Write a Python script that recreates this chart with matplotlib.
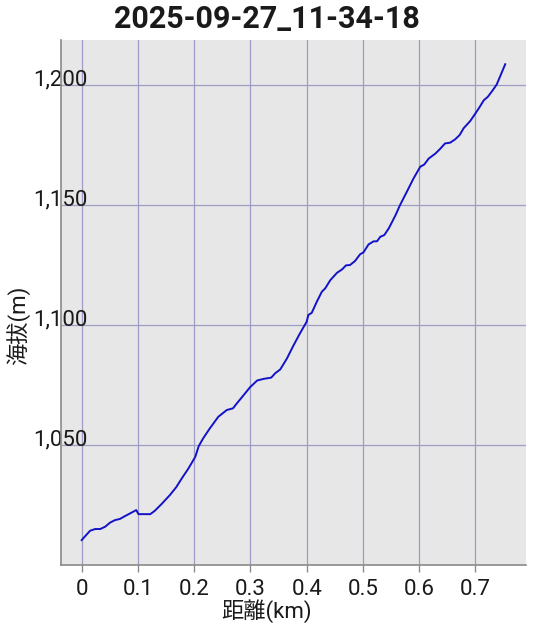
import matplotlib
matplotlib.use("Agg")
import matplotlib.pyplot as plt
from matplotlib.ticker import FixedLocator, StrMethodFormatter

# Distancia acumulada (km) y altitud (m)
distancia = [0.0, 0.015, 0.024, 0.033, 0.042, 0.050, 0.059, 0.068, 0.077, 0.086,
             0.097, 0.101, 0.122, 0.130, 0.142, 0.157, 0.168, 0.178, 0.190, 0.202,
             0.208, 0.216, 0.228, 0.243, 0.258, 0.269, 0.276, 0.288, 0.299, 0.312,
             0.324, 0.337, 0.344, 0.353, 0.365, 0.377, 0.388, 0.400, 0.403, 0.409,
             0.418, 0.427, 0.433, 0.442, 0.454, 0.463, 0.470, 0.477, 0.486, 0.495,
             0.501, 0.510, 0.519, 0.525, 0.531, 0.538, 0.546, 0.558, 0.566, 0.578,
             0.590, 0.602, 0.609, 0.617, 0.629, 0.638, 0.646, 0.655, 0.664, 0.672,
             0.679, 0.691, 0.700, 0.706, 0.715, 0.722, 0.730, 0.738, 0.753]
altitud = [1010.4, 1014.3, 1015.0, 1015.0, 1016.0, 1017.6, 1018.7, 1019.2, 1020.4, 1021.5,
           1022.9, 1021.2, 1021.2, 1022.6, 1025.4, 1029.2, 1032.4, 1036.1, 1040.3, 1045.1,
           1049.5, 1052.8, 1057.0, 1061.8, 1064.6, 1065.3, 1067.4, 1070.8, 1074.0, 1076.9,
           1077.6, 1078.1, 1079.9, 1081.5, 1086.1, 1091.7, 1096.5, 1101.4, 1104.2, 1105.1,
           1109.7, 1113.9, 1115.3, 1118.7, 1121.8, 1123.2, 1124.9, 1125.0, 1126.7, 1129.5,
           1130.3, 1133.6, 1134.9, 1134.9, 1136.8, 1137.5, 1140.3, 1145.8, 1150.0, 1155.5,
           1161.1, 1166.0, 1166.9, 1169.4, 1171.5, 1173.6, 1175.7, 1176.0, 1177.4, 1179.2,
           1182.0, 1185.1, 1188.2, 1190.3, 1193.7, 1195.1, 1197.6, 1200.3, 1208.7]

xticks = [0, 0.1, 0.2, 0.3, 0.4, 0.5, 0.6, 0.7]
xlabels = ["0", "0.1", "0.2", "0.3", "0.4", "0.5", "0.6", "0.7"]
yticks = [1050, 1100, 1150, 1200]

titulo = "2025-09-27_11-34-18"
etiqueta_x = "距離(km)"
etiqueta_y = "海拔(m)"

fuentes = ["Roboto", "Noto Sans CJK JP", "DejaVu Sans"]
plt.rcParams["font.family"] = fuentes

fig = plt.figure(figsize=(5.33, 6.34), dpi=100)
ax = fig.add_axes([0.1144, 0.1088, 0.8725, 0.8281])
ax.set_facecolor("#e7e7e7")

ax.plot(distancia, altitud, color="#1212c8", linewidth=1.4, zorder=3)

ax.set_xlim(-0.0368, 0.79)
ax.set_ylim(1000, 1218.8)

ax.xaxis.set_major_locator(FixedLocator(xticks))
ax.set_xticklabels(xlabels)
ax.yaxis.set_major_locator(FixedLocator(yticks))
ax.yaxis.set_major_formatter(StrMethodFormatter("{x:,.0f}"))

ax.grid(True, color="#9c9cc6", linewidth=0.9)
ax.set_axisbelow(True)

for lado in ["top", "right"]:
    ax.spines[lado].set_visible(False)
for lado in ["left", "bottom"]:
    ax.spines[lado].set_color("#8a8a8a")
    ax.spines[lado].set_linewidth(1.2)

ax.tick_params(axis="x", length=5, width=1, color="#8a8a8a", pad=5,
               labelsize=16, labelcolor="#1a1a1a")
ax.tick_params(axis="y", length=0, pad=-19.5, labelsize=16, labelcolor="#1a1a1a")
for etiqueta in ax.get_yticklabels():
    etiqueta.set_va("baseline")

# El título va centrado en la figura, no en los ejes
ax.set_title(titulo, fontsize=22, fontweight="bold", color="#1a1a1a", pad=9, x=0.442)

ax.set_xlabel(etiqueta_x, fontsize=16, color="#1a1a1a", va="center")
ax.xaxis.set_label_coords(0.442, -0.0876)
ax.set_ylabel(etiqueta_y, fontsize=16, color="#1a1a1a", va="center")
ax.yaxis.set_label_coords(-0.0925, 0.457)

fig.savefig("out.png", dpi=100)
